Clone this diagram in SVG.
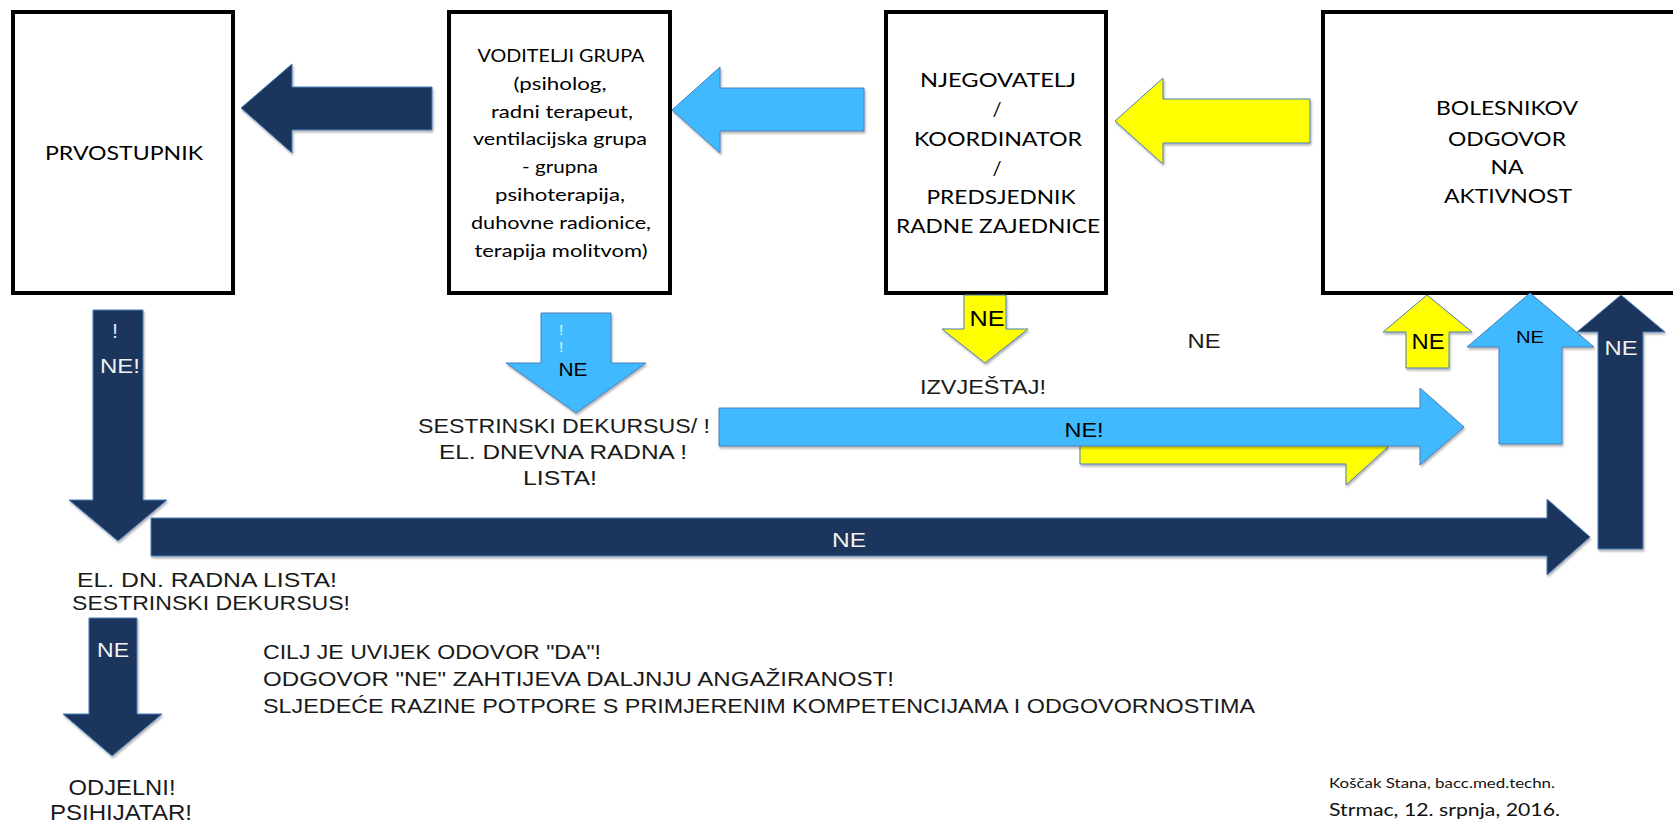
<svg xmlns="http://www.w3.org/2000/svg" width="1673" height="823" viewBox="0 0 1673 823">
  <defs>
    <filter id="shadow" x="-10%" y="-10%" width="130%" height="140%">
      <feDropShadow dx="1" dy="2" stdDeviation="1.2" flood-color="#000" flood-opacity="0.3"/>
    </filter>
    <style>
      .box { fill: #fff; stroke: #000; stroke-width: 4; }
      .bt { font-family: Lato, "Open Sans", sans-serif; fill: #000; text-anchor: middle; }
      .arrow { stroke: #4A7EBB; stroke-width: 1; stroke-linejoin: miter; filter: url(#shadow); }
      .navy { fill: #1B365D; }
      .sky { fill: #40B9FF; }
      .yel { fill: #FFFF00; }
      .lbl { font-family: "Liberation Sans", Arial, sans-serif; text-anchor: middle; }
      .note { font-family: "Liberation Sans", Arial, sans-serif; fill: #1a1a1a; }
      .wht { fill: #F2F2F2; }
      .blk { fill: #000; }
      .sig { font-family: Lato, "Open Sans", sans-serif; fill: #111; }
    </style>
  </defs>

  <!-- Nodes -->
  <g id="prvostupnik">
    <rect class="box" x="13" y="12" width="220" height="281"/>
    <text class="bt" x="124" y="160" font-size="19" textLength="158" lengthAdjust="spacingAndGlyphs">PRVOSTUPNIK</text>
  </g>

  <g id="voditelji-grupa">
    <rect class="box" x="449" y="12" width="221" height="281"/>
    <g class="bt" font-size="18">
      <text x="561" y="62" textLength="167" lengthAdjust="spacingAndGlyphs">VODITELJI GRUPA</text>
      <text x="560" y="90" textLength="93" lengthAdjust="spacingAndGlyphs">(psiholog,</text>
      <text x="562" y="118" textLength="142" lengthAdjust="spacingAndGlyphs">radni terapeut,</text>
      <text x="560" y="145" textLength="174" lengthAdjust="spacingAndGlyphs">ventilacijska grupa</text>
      <text x="560" y="173" textLength="76" lengthAdjust="spacingAndGlyphs">- grupna</text>
      <text x="560" y="201" textLength="130" lengthAdjust="spacingAndGlyphs">psihoterapija,</text>
      <text x="561" y="229" textLength="180" lengthAdjust="spacingAndGlyphs">duhovne radionice,</text>
      <text x="561" y="257" textLength="173" lengthAdjust="spacingAndGlyphs">terapija molitvom)</text>
    </g>
  </g>

  <g id="njegovatelj">
    <rect class="box" x="886" y="12" width="220" height="281"/>
    <g class="bt" font-size="20">
      <text x="998" y="87" textLength="156" lengthAdjust="spacingAndGlyphs">NJEGOVATELJ</text>
      <text x="997" y="116">/</text>
      <text x="998" y="146" textLength="168" lengthAdjust="spacingAndGlyphs">KOORDINATOR</text>
      <text x="997" y="175">/</text>
      <text x="1001" y="204" textLength="149" lengthAdjust="spacingAndGlyphs">PREDSJEDNIK</text>
      <text x="998" y="233" textLength="204" lengthAdjust="spacingAndGlyphs">RADNE ZAJEDNICE</text>
    </g>
  </g>

  <g id="bolesnikov-odgovor">
    <rect class="box" x="1323" y="12" width="400" height="281"/>
    <g class="bt" font-size="20">
      <text x="1507" y="115" textLength="142" lengthAdjust="spacingAndGlyphs">BOLESNIKOV</text>
      <text x="1507" y="146" textLength="118" lengthAdjust="spacingAndGlyphs">ODGOVOR</text>
      <text x="1507" y="174" textLength="33" lengthAdjust="spacingAndGlyphs">NA</text>
      <text x="1508" y="203" textLength="128" lengthAdjust="spacingAndGlyphs">AKTIVNOST</text>
    </g>
  </g>

  <!-- Connectors: block arrows -->
  <g id="connectors">
    <!-- top row, pointing left -->
    <polygon class="arrow navy" points="241,108 292,64 292,87 432,87 432,130 292,130 292,153"/>
    <polygon class="arrow sky" points="672,110 720,67 720,88 864,88 864,131 720,131 720,153"/>
    <polygon class="arrow yel" points="1115,121 1163,78 1163,99 1310,99 1310,143 1163,143 1163,164"/>

    <!-- downward arrows under the boxes -->
    <polygon class="arrow navy" points="93,310 143,310 143,500 167,500 118,541 69,500 93,500"/>
    <polygon class="arrow sky" points="541,313 611,313 611,363 646,363 576,413 506,363 541,363"/>
    <polygon class="arrow yel" points="964,295 1006,295 1006,329 1028,329 985,363 942,329 964,329"/>

    <!-- long arrows to the right -->
    <polygon class="arrow yel" points="1080,430 1346,430 1346,410 1388,447 1346,485 1346,464 1080,464"/>
    <polygon class="arrow sky" points="719,408 1420,408 1420,388 1464,427 1420,465 1420,446 719,446"/>
    <polygon class="arrow navy" points="151,518 1547,518 1547,499 1590,537 1547,575 1547,556 151,556"/>

    <!-- lower downward arrow -->
    <polygon class="arrow navy" points="89,618 137,618 137,714 162,714 112,756 63,714 89,714"/>

    <!-- upward arrows into the response box -->
    <polygon class="arrow yel" points="1427,295 1472,332 1449,332 1449,368 1406,368 1406,332 1383,332"/>
    <polygon class="arrow sky" points="1530,293 1594,347 1562,347 1562,444 1499,444 1499,347 1467,347"/>
    <polygon class="arrow navy" points="1621,295 1665,332 1643,332 1643,549 1598,549 1598,332 1577,332"/>
  </g>

  <!-- Arrow labels -->
  <g id="arrow-labels" class="lbl">
    <text class="wht" x="115" y="338" font-size="20">!</text>
    <text class="wht" x="120" y="373" font-size="20" textLength="40" lengthAdjust="spacingAndGlyphs">NE!</text>
    <text class="wht" x="561" y="335" font-size="15">!</text>
    <text class="wht" x="561" y="352" font-size="15">!</text>
    <text class="blk" x="573" y="376" font-size="18" textLength="29" lengthAdjust="spacingAndGlyphs">NE</text>
    <text class="blk" x="987" y="326" font-size="22" textLength="35" lengthAdjust="spacingAndGlyphs">NE</text>
    <text class="blk" x="1084" y="437" font-size="21" textLength="39" lengthAdjust="spacingAndGlyphs">NE!</text>
    <text class="wht" x="849" y="547" font-size="20" textLength="34" lengthAdjust="spacingAndGlyphs">NE</text>
    <text class="wht" x="113" y="657" font-size="20" textLength="32" lengthAdjust="spacingAndGlyphs">NE</text>
    <text class="blk" x="1428" y="349" font-size="22" textLength="33" lengthAdjust="spacingAndGlyphs">NE</text>
    <text class="blk" x="1530" y="343" font-size="17" textLength="28" lengthAdjust="spacingAndGlyphs">NE</text>
    <text class="wht" x="1621" y="355" font-size="21" textLength="33" lengthAdjust="spacingAndGlyphs">NE</text>
  </g>

  <!-- Free-standing notes -->
  <g id="notes" class="note">
    <text x="1204" y="348" font-size="20" text-anchor="middle" textLength="33" lengthAdjust="spacingAndGlyphs">NE</text>
    <text x="983" y="394" font-size="20" text-anchor="middle" textLength="126" lengthAdjust="spacingAndGlyphs">IZVJEŠTAJ!</text>

    <text x="564" y="433" font-size="21" text-anchor="middle" textLength="292" lengthAdjust="spacingAndGlyphs">SESTRINSKI DEKURSUS/ !</text>
    <text x="563" y="459" font-size="21" text-anchor="middle" textLength="248" lengthAdjust="spacingAndGlyphs">EL. DNEVNA RADNA !</text>
    <text x="560" y="485" font-size="21" text-anchor="middle" textLength="74" lengthAdjust="spacingAndGlyphs">LISTA!</text>

    <text x="207" y="587" font-size="20" text-anchor="middle" textLength="260" lengthAdjust="spacingAndGlyphs">EL. DN. RADNA LISTA!</text>
    <text x="211" y="610" font-size="20" text-anchor="middle" textLength="278" lengthAdjust="spacingAndGlyphs">SESTRINSKI DEKURSUS!</text>

    <text x="122" y="795" font-size="22" text-anchor="middle" textLength="107" lengthAdjust="spacingAndGlyphs">ODJELNI!</text>
    <text x="121" y="820" font-size="22" text-anchor="middle" textLength="142" lengthAdjust="spacingAndGlyphs">PSIHIJATAR!</text>

    <text x="263" y="659" font-size="21" textLength="338" lengthAdjust="spacingAndGlyphs">CILJ JE UVIJEK ODOVOR "DA"!</text>
    <text x="263" y="686" font-size="21" textLength="631" lengthAdjust="spacingAndGlyphs">ODGOVOR "NE" ZAHTIJEVA DALJNJU ANGAŽIRANOST!</text>
    <text x="263" y="713" font-size="21" textLength="992" lengthAdjust="spacingAndGlyphs">SLJEDEĆE RAZINE POTPORE S PRIMJERENIM KOMPETENCIJAMA I ODGOVORNOSTIMA</text>
  </g>

  <g id="signature" class="sig">
    <text x="1329" y="788" font-size="14" textLength="226" lengthAdjust="spacingAndGlyphs">Koščak Stana, bacc.med.techn.</text>
    <text x="1329" y="816" font-size="17" textLength="231" lengthAdjust="spacingAndGlyphs">Strmac, 12. srpnja, 2016.</text>
  </g>
</svg>
